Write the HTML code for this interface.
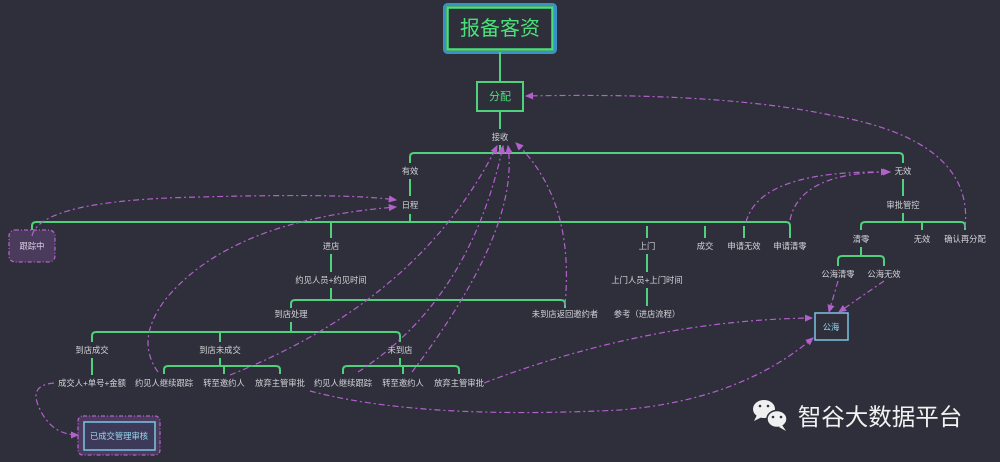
<!DOCTYPE html>
<html><head><meta charset="utf-8"><style>
html,body{margin:0;padding:0;background:#2e2f3b;}
svg{display:block}
text{font-family:"Liberation Sans","Noto Sans CJK SC",sans-serif;fill:#d4d4d8;font-size:8.3px;text-anchor:middle;dominant-baseline:central}
.g{stroke:#4fd07a;stroke-width:2;fill:none;stroke-linejoin:round}
.d{stroke:#b360cc;stroke-width:1.2;fill:none;stroke-dasharray:6 3 2 3}
</style></head><body>
<svg width="1000" height="462" viewBox="0 0 1000 462">
<defs><marker id="a" markerWidth="8" markerHeight="8" refX="6" refY="3" orient="auto"><path d="M0,0L7,3L0,6z" fill="#b360cc"/></marker></defs>
<rect width="1000" height="462" fill="#2e2f3b"/>
<rect x="444.5" y="4.5" width="111" height="48" rx="3" fill="none" stroke="#3a90c8" stroke-width="3"/>
<rect x="447.5" y="7.5" width="105" height="42" fill="#2e2f3b" stroke="#4be07a" stroke-width="2.5"/>
<text x="500" y="29" style="font-size:20px;fill:#4be07a">报备客资</text>
<path class="g" d="M500,52V82"/>
<rect x="477" y="82" width="46" height="29" fill="none" stroke="#4fd07a" stroke-width="2"/>
<text x="500" y="97" style="font-size:11px;fill:#4be07a">分配</text>
<path class="g" d="M500,111V129M500,145V153"/>
<text x="500" y="137">接收</text>
<path class="g" d="M410,163V157Q410,153 414,153H899Q903,153 903,157V163"/>
<text x="410" y="171">有效</text>
<path class="g" d="M410,179V196M410,214V222"/>
<text x="410" y="205">日程</text>
<path class="g" d="M32,230V226Q32,222 36,222H786Q790,222 790,226V238M331,222V238M647,226V238M705,226V238M744,226V238"/>
<rect x="9" y="230" width="46" height="32" rx="6" fill="#4a3a5c" stroke="#b360cc" stroke-width="1.3" stroke-dasharray="4 2 1 2"/>
<text x="32" y="246" style="fill:#e0d0e8">跟踪中</text>
<text x="331" y="246">进店</text>
<path class="g" d="M331,254V272M331,288V300"/>
<text x="331" y="280">约见人员+约见时间</text>
<path class="g" d="M291,308V304Q291,300 295,300H561Q565,300 565,304V308"/>
<text x="291" y="314">到店处理</text>
<text x="565" y="314">未到店返回邀约者</text>
<path class="g" d="M291,322V332M92,342V336Q92,332 96,332H396Q400,332 400,336V342M220,332V342"/>
<text x="92" y="350">到店成交</text>
<text x="220" y="350">到店未成交</text>
<text x="400" y="350">未到店</text>
<path class="g" d="M92,358V375M220,358V366M164,374V370Q164,366 168,366H276Q280,366 280,370V374M224,366V374"/>
<path class="g" d="M400,358V366M343,374V370Q343,366 347,366H455Q459,366 459,370V374M403,366V374"/>
<text x="92" y="383">成交人+单号+金额</text>
<text x="164" y="383">约见人继续跟踪</text>
<text x="224" y="383">转至邀约人</text>
<text x="280" y="383">放弃主管审批</text>
<text x="343" y="383">约见人继续跟踪</text>
<text x="403" y="383">转至邀约人</text>
<text x="459" y="383">放弃主管审批</text>
<rect x="78" y="416" width="82" height="39" rx="5" fill="#4a3a5c" stroke="#b360cc" stroke-width="1.3" stroke-dasharray="4 2 1 2"/>
<rect x="84" y="422" width="71" height="28" fill="#3c3a58" stroke="#7cc4e4" stroke-width="1.5"/>
<text x="119" y="436" style="fill:#9ad8f0">已成交管理审核</text>
<text x="647" y="246">上门</text>
<path class="g" d="M647,254V272M647,288V306"/>
<text x="647" y="280">上门人员+上门时间</text>
<text x="647" y="314">参考（进店流程）</text>
<text x="705" y="246">成交</text>
<text x="744" y="246">申请无效</text>
<text x="790" y="246">申请清零</text>
<text x="903" y="171">无效</text>
<path class="g" d="M903,179V196M903,213V222M861,230V226Q861,222 865,222H961Q965,222 965,226V230M922,222V230"/>
<text x="903" y="205">审批管控</text>
<text x="861" y="239">清零</text>
<text x="922" y="239">无效</text>
<text x="965" y="239">确认再分配</text>
<path class="g" d="M861,247V256M838,266V260Q838,256 842,256H880Q884,256 884,260V266"/>
<text x="838" y="274">公海清零</text>
<text x="884" y="274">公海无效</text>
<rect x="815" y="313" width="33" height="27" fill="#2e2f3b" stroke="#7cc4e4" stroke-width="1.5"/>
<text x="831" y="327" style="fill:#9ad8f0">公海</text>
<path class="d" marker-end="url(#a)" d="M32,236Q40,200 200,197Q350,193 396,200"/>
<path class="d" marker-end="url(#a)" d="M158,372Q135,340 165,300Q230,220 396,207"/>
<path class="d" marker-end="url(#a)" d="M230,375Q420,300 497,146"/>
<path class="d" marker-end="url(#a)" d="M358,372Q470,300 503,146"/>
<path class="d" marker-end="url(#a)" d="M412,372Q520,230 508,146"/>
<path class="d" marker-end="url(#a)" d="M565,305Q575,200 516,143"/>
<path class="d" marker-end="url(#a)" d="M746,222Q760,170 888,172"/>
<path class="d" marker-end="url(#a)" d="M790,220Q800,172 890,172"/>
<path class="d" marker-end="url(#a)" d="M965,228Q975,140 830,115Q720,92 526,96"/>
<path class="d" marker-end="url(#a)" d="M838,281L829,312"/>
<path class="d" marker-end="url(#a)" d="M884,281L839,312"/>
<path class="d" marker-end="url(#a)" d="M484,383Q650,320 812,318"/>
<path class="d" marker-end="url(#a)" d="M310,391Q420,420 620,410Q740,400 813,338"/>
<path class="d" marker-end="url(#a)" d="M54,383Q30,385 38,405Q50,435 78,435"/>
<g>
<ellipse cx="764" cy="409" rx="11" ry="9" fill="#f0f0f0"/>
<path d="M757,415L754,421L762,417z" fill="#f0f0f0"/>
<ellipse cx="777" cy="419" rx="10" ry="8.5" fill="#f0f0f0" stroke="#2e2f3b" stroke-width="1.5"/>
<path d="M782,425L786,431L779,427z" fill="#f0f0f0"/>
<circle cx="760" cy="406" r="1.3" fill="#2e2f3b"/><circle cx="768" cy="406" r="1.3" fill="#2e2f3b"/>
<circle cx="773" cy="417" r="1.3" fill="#2e2f3b"/><circle cx="781" cy="417" r="1.3" fill="#2e2f3b"/>
</g>
<text x="880" y="417" style="font-size:23.5px;fill:#f2f2f2">智谷大数据平台</text>
</svg>
</body></html>
